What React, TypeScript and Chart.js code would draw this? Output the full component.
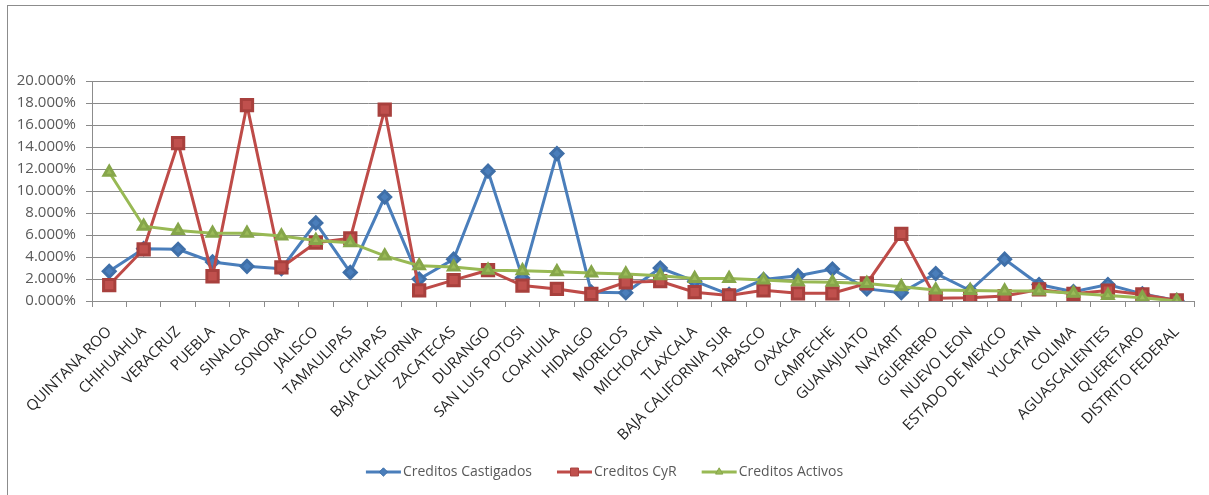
import { useEffect, useRef } from 'react';
import { Chart, registerables } from 'chart.js';
import { drawPoint } from 'chart.js/helpers';

Chart.register(...registerables);

const estados = [
  'QUINTANA ROO', 'CHIHUAHUA', 'VERACRUZ', 'PUEBLA', 'SINALOA', 'SONORA', 'JALISCO',
  'TAMAULIPAS', 'CHIAPAS', 'BAJA CALIFORNIA', 'ZACATECAS', 'DURANGO', 'SAN LUIS POTOSI',
  'COAHUILA', 'HIDALGO', 'MORELOS', 'MICHOACAN', 'TLAXCALA', 'BAJA CALIFORNIA SUR',
  'TABASCO', 'OAXACA', 'CAMPECHE', 'GUANAJUATO', 'NAYARIT', 'GUERRERO', 'NUEVO LEON',
  'ESTADO DE MEXICO', 'YUCATAN', 'COLIMA', 'AGUASCALIENTES', 'QUERETARO', 'DISTRITO FEDERAL',
];

// Porcentajes por estado
const creditosCastigados = [
  2.7, 4.76, 4.7, 3.55, 3.15, 2.94, 7.1, 2.6, 9.45, 2.0, 3.8, 11.8, 2.1, 13.4, 0.8, 0.75,
  3.0, 1.8, 0.6, 1.95, 2.3, 2.9, 1.1, 0.75, 2.5, 0.95, 3.8, 1.5, 0.85, 1.5, 0.65, 0.05,
];
const creditosCyR = [
  1.45, 4.7, 14.35, 2.25, 17.8, 3.05, 5.3, 5.7, 17.4, 0.97, 1.9, 2.8, 1.4, 1.1, 0.65, 1.7,
  1.8, 0.8, 0.5, 0.97, 0.7, 0.7, 1.6, 6.1, 0.25, 0.3, 0.45, 1.05, 0.65, 0.95, 0.6, 0.05,
];
const creditosActivos = [
  11.7, 6.8, 6.4, 6.15, 6.15, 5.9, 5.5, 5.3, 4.1, 3.2, 3.1, 2.8, 2.75, 2.65, 2.55, 2.45,
  2.3, 2.05, 2.05, 1.9, 1.75, 1.7, 1.6, 1.3, 1.0, 0.95, 0.9, 0.9, 0.7, 0.5, 0.3, 0.0,
];

const Y_MAX = 20;
const Y_STEP = 2;

const FONT = '"Open Sans", "Liberation Sans", sans-serif';

// Bottom legend: a short line segment with the series marker, then the label
const lineLegend = {
  id: 'lineLegend',
  afterDraw(chart: any) {
    const ctx = chart.ctx as CanvasRenderingContext2D;
    ctx.save();
    ctx.font = `14px ${FONT}`;
    ctx.textBaseline = 'middle';
    const segW = 35;
    const gap = 25;
    const items = chart.data.datasets.map((ds: any) => ({
      ds,
      w: segW + 2 + ctx.measureText(ds.label).width,
    }));
    const total = items.reduce((s: number, it: any) => s + it.w, 0) + gap * (items.length - 1);
    let x = chart.width / 2 - total / 2;
    const y = 472;
    items.forEach(({ ds, w }: any) => {
      ctx.strokeStyle = ds.borderColor;
      ctx.lineWidth = 3;
      ctx.beginPath();
      ctx.moveTo(x, y);
      ctx.lineTo(x + segW, y);
      ctx.stroke();
      ctx.fillStyle = ds.pointBackgroundColor;
      ctx.strokeStyle = ds.pointBorderColor;
      ctx.lineWidth = 1;
      drawPoint(ctx, { pointStyle: ds.pointStyle, radius: ds.pointRadius * 0.7, rotation: 0, borderWidth: 1 }, x + segW / 2, y);
      ctx.fillStyle = '#595959';
      ctx.textAlign = 'left';
      ctx.fillText(ds.label, x + segW + 2, y);
      x += w + gap;
    });
    ctx.restore();
  },
};

export default function App() {
  const canvasRef = useRef<HTMLCanvasElement | null>(null);

  useEffect(() => {
    const canvas = canvasRef.current;
    if (!canvas) return;
    const chart = new Chart(canvas, {
      type: 'line',
      data: {
        labels: estados,
        datasets: [
          {
            label: 'Creditos Castigados',
            data: creditosCastigados,
            borderColor: '#4a7ebb',
            backgroundColor: '#4a7ebb',
            pointBackgroundColor: '#4a7ebb',
            pointBorderColor: '#3f6fa8',
            pointStyle: 'rectRot',
            pointRadius: 6,
            borderWidth: 3,
            tension: 0,
            order: 3,
          },
          {
            label: 'Creditos CyR',
            data: creditosCyR,
            borderColor: '#be4b48',
            backgroundColor: '#be4b48',
            pointBackgroundColor: '#c0504d',
            pointBorderColor: '#a8403d',
            pointStyle: 'rect',
            pointRadius: 8,
            borderWidth: 3,
            tension: 0,
            order: 2,
          },
          {
            label: 'Creditos Activos',
            data: creditosActivos,
            borderColor: '#98b954',
            backgroundColor: '#98b954',
            pointBackgroundColor: '#9bbb59',
            pointBorderColor: '#86a64a',
            pointStyle: 'triangle',
            pointRadius: 6,
            borderWidth: 3,
            tension: 0,
            order: 1,
          },
        ],
      },
      options: {
        responsive: false,
        animation: false,
        devicePixelRatio: 1,
        layout: { padding: { left: 0, right: 15, top: 81, bottom: 54 } },
        plugins: {
          legend: { display: false },
          tooltip: { enabled: false },
          title: { display: false },
        },
        scales: {
          x: {
            type: 'category',
            offset: true,
            grid: {
              offset: true,
              drawOnChartArea: false,
              drawTicks: true,
              tickLength: 6,
              color: '#8c8c8c',
            },
            border: { display: true, color: '#8c8c8c', width: 1 },
            ticks: {
              autoSkip: false,
              minRotation: 45,
              maxRotation: 45,
              padding: 16,
              color: '#262626',
              font: { family: FONT, size: 15 },
            },
            afterFit(scale: any) {
              scale.height = 140;
            },
          },
          y: {
            min: 0,
            max: Y_MAX,
            grid: {
              color: '#8a8a8a',
              lineWidth: 1,
              tickLength: 6,
              drawTicks: true,
            },
            border: { display: true, color: '#8c8c8c', width: 1 },
            ticks: {
              stepSize: Y_STEP,
              padding: 10,
              color: '#595959',
              font: { family: FONT, size: 15 },
              callback: (v: any) => `${Number(v).toFixed(3)}%`,
            },
            afterFit(scale: any) {
              scale.width = 92;
            },
          },
        },
      },
      plugins: [lineLegend],
    });
    return () => chart.destroy();
  }, []);

  return (
    <div
      style={{
        position: 'absolute',
        left: 0,
        top: 0,
        width: 1209,
        height: 495,
        overflow: 'hidden',
        background: '#ffffff',
      }}
    >
      <div
        style={{
          position: 'absolute',
          left: 7,
          top: 5,
          width: 1230,
          height: 520,
          border: '1px solid #8c8c8c',
        }}
      />
      <canvas
        ref={canvasRef}
        width={1209}
        height={495}
        style={{ position: 'absolute', left: 0, top: 0 }}
      />
    </div>
  );
}
